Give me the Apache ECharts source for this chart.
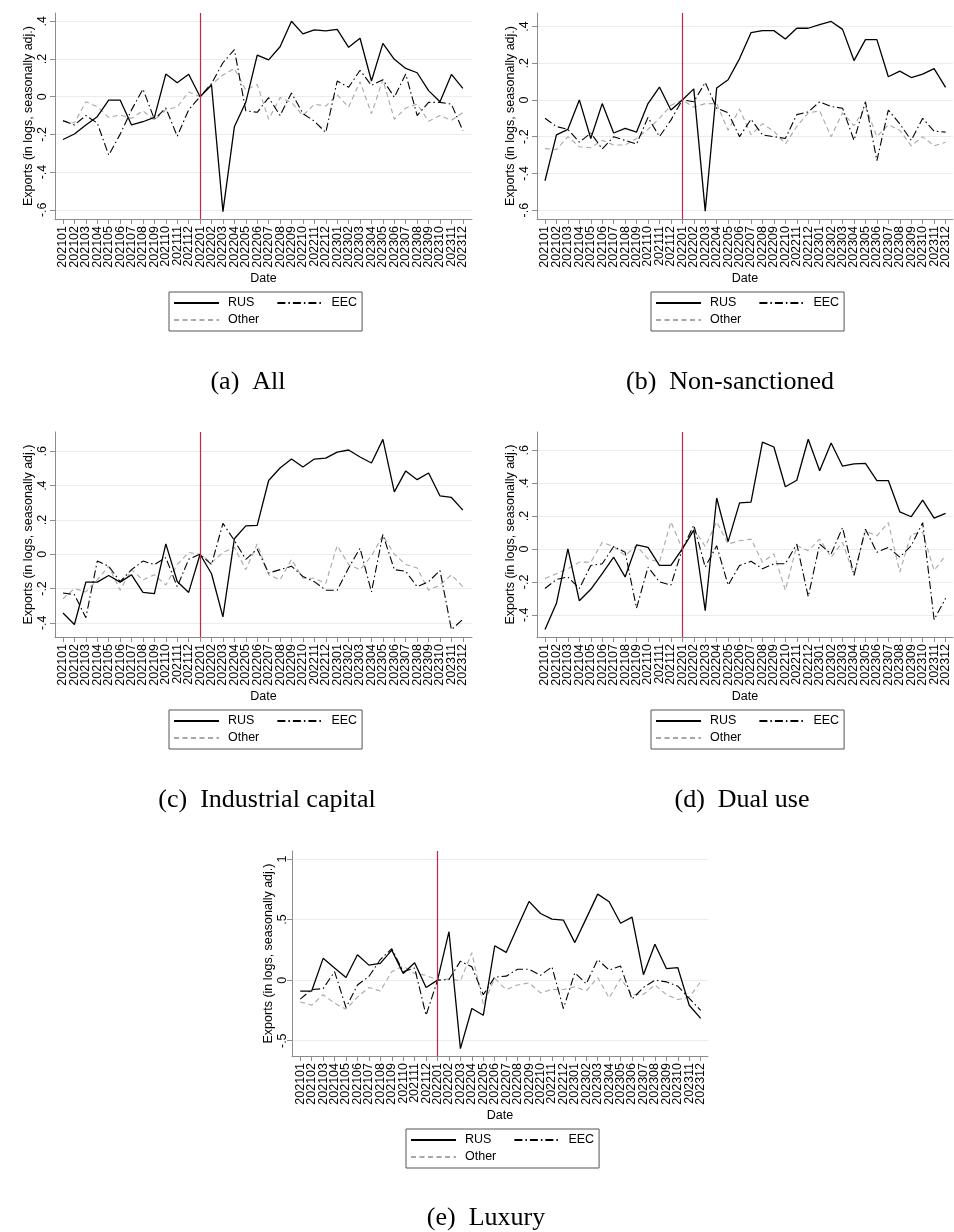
<!DOCTYPE html>
<html>
<head>
<meta charset="utf-8">
<script src="https://cdn.jsdelivr.net/npm/echarts@6/dist/echarts.min.js"></script>
<style>
html, body { margin: 0; padding: 0; background: #fff; }
#chart { width: 954px; height: 1232px; }
</style>
</head>
<body>
<div id="chart"></div>
<script>
// x axis: months 2021-01 .. 2023-12
var months = ['202101','202102','202103','202104','202105','202106','202107','202108','202109','202110','202111','202112',
              '202201','202202','202203','202204','202205','202206','202207','202208','202209','202210','202211','202212',
              '202301','202302','202303','202304','202305','202306','202307','202308','202309','202310','202311','202312'];
var eventMonth = '202201';

// y tick values
var yTicksNarrow = [-0.6, -0.4, -0.2, 0, 0.2, 0.4];
var yTicksWide = [-0.4, -0.2, 0, 0.2, 0.4, 0.6];
var yTicksLux = [-0.5, 0, 0.5, 1];

// (a) All
var rusAll = [-0.227,-0.198,-0.15,-0.106,-0.018,-0.018,-0.15,-0.133,-0.11,0.12,0.074,0.119,0,0.062,-0.61,-0.16,-0.03,0.22,0.195,0.265,0.40,0.333,0.354,0.349,0.357,0.262,0.31,0.083,0.283,0.198,0.15,0.127,0.032,-0.027,0.118,0.044];
var eecAll = [-0.127,-0.15,-0.10,-0.14,-0.31,-0.2,-0.07,0.04,-0.12,-0.06,-0.21,-0.07,0,0.07,0.18,0.25,-0.075,-0.083,-0.005,-0.10,0.02,-0.09,-0.13,-0.19,0.083,0.05,0.14,0.06,0.09,-0.003,0.12,-0.10,-0.03,-0.03,-0.04,-0.18];
var othAll = [-0.13,-0.14,-0.027,-0.053,-0.11,-0.097,-0.115,-0.075,-0.125,-0.07,-0.055,0.025,0,0.065,0.115,0.15,0.035,0.065,-0.12,-0.005,-0.03,-0.10,-0.04,-0.05,0.01,-0.055,0.08,-0.09,0.09,-0.12,-0.06,-0.04,-0.13,-0.10,-0.125,-0.085];

// (b) Non-sanctioned
var rusNon = [-0.44,-0.19,-0.16,0.0,-0.21,-0.02,-0.18,-0.155,-0.175,-0.02,0.07,-0.055,0,0.06,-0.605,0.065,0.11,0.225,0.366,0.377,0.377,0.332,0.39,0.39,0.41,0.427,0.384,0.214,0.328,0.328,0.126,0.157,0.122,0.14,0.17,0.068];
var eecNon = [-0.10,-0.145,-0.16,-0.23,-0.18,-0.267,-0.2,-0.22,-0.24,-0.095,-0.2,-0.11,0,-0.01,0.095,-0.045,-0.07,-0.2,-0.105,-0.19,-0.2,-0.21,-0.08,-0.065,-0.01,-0.036,-0.045,-0.22,-0.01,-0.33,-0.055,-0.13,-0.22,-0.1,-0.17,-0.175];
var othNon = [-0.265,-0.27,-0.2,-0.255,-0.26,-0.22,-0.245,-0.245,-0.21,-0.16,-0.1,-0.03,0,-0.04,-0.02,-0.02,-0.165,-0.05,-0.19,-0.13,-0.17,-0.24,-0.145,-0.07,-0.06,-0.2,-0.07,-0.14,-0.036,-0.2,-0.135,-0.165,-0.25,-0.2,-0.25,-0.23];

// (c) Industrial capital
var rusInd = [-0.343,-0.41,-0.163,-0.163,-0.124,-0.163,-0.12,-0.223,-0.23,0.06,-0.159,-0.223,0,-0.114,-0.366,0.09,0.165,0.168,0.43,0.503,0.555,0.509,0.555,0.561,0.596,0.608,0.567,0.532,0.67,0.364,0.486,0.435,0.474,0.34,0.331,0.257];
var eecInd = [-0.226,-0.236,-0.37,-0.04,-0.07,-0.16,-0.09,-0.04,-0.06,-0.02,-0.19,-0.03,0,-0.06,0.18,0.08,-0.03,0.03,-0.11,-0.09,-0.07,-0.13,-0.16,-0.21,-0.21,-0.08,0.035,-0.22,0.115,-0.09,-0.1,-0.19,-0.16,-0.095,-0.44,-0.38];
var othInd = [-0.26,-0.2,-0.22,-0.15,-0.07,-0.21,-0.09,-0.15,-0.12,-0.18,-0.06,0.01,0,-0.05,0.01,0.04,-0.09,0.06,-0.12,-0.15,-0.03,-0.14,-0.14,-0.17,0.05,-0.06,-0.09,-0.01,0.11,0.0,-0.06,-0.08,-0.21,-0.18,-0.12,-0.19];

// (d) Dual use
var rusDual = [-0.49,-0.33,0,-0.315,-0.245,-0.15,-0.05,-0.17,0.025,0.01,-0.1,-0.1,0,0.115,-0.375,0.31,0.045,0.28,0.285,0.65,0.62,0.378,0.418,0.667,0.475,0.644,0.503,0.517,0.52,0.416,0.416,0.226,0.196,0.297,0.188,0.216];
var eecDual = [-0.24,-0.185,-0.17,-0.24,-0.1,-0.09,0.015,-0.02,-0.36,-0.11,-0.2,-0.22,0,0.145,-0.11,0.02,-0.22,-0.1,-0.075,-0.12,-0.09,-0.09,0.03,-0.29,0.03,-0.03,0.13,-0.16,0.12,-0.02,0.01,-0.05,0.02,0.16,-0.43,-0.3];
var othDual = [-0.18,-0.15,-0.12,-0.08,-0.08,0.04,0.015,-0.04,0.02,-0.06,-0.08,0.165,0,0.125,0.015,0.165,0.03,0.05,0.06,-0.08,-0.03,-0.25,0.02,-0.01,0.06,-0.05,0.04,-0.16,0.11,0.08,0.16,-0.14,0.09,0.1,-0.13,-0.04];

// (e) Luxury
var rusLux = [-0.09,-0.09,0.18,0.10,0.022,0.21,0.124,0.138,0.248,0.055,0.143,-0.06,0,0.40,-0.565,-0.234,-0.29,0.284,0.229,0.44,0.65,0.55,0.504,0.496,0.31,0.51,0.71,0.647,0.47,0.52,0.045,0.296,0.096,0.103,-0.207,-0.315];
var eecLux = [-0.157,-0.077,-0.07,0.07,-0.226,-0.04,0.03,0.17,0.26,0.07,0.1,-0.29,0,0.005,0.157,0.11,-0.12,0.025,0.033,0.09,0.09,0.04,0.11,-0.234,0.06,-0.03,0.17,0.083,0.116,-0.157,-0.06,0,-0.014,-0.05,-0.15,-0.25];
var othLux = [-0.18,-0.207,-0.12,-0.19,-0.24,-0.14,-0.06,-0.09,0.07,0.116,0.055,0.04,0,0.01,-0.005,0.226,-0.2,0.014,-0.077,-0.04,-0.022,-0.105,-0.077,-0.077,-0.055,-0.088,0.022,-0.146,0.014,-0.12,-0.116,-0.04,-0.12,-0.16,-0.14,-0.014];

var panels = [
    {cap: '(a)  All', rus: rusAll, eec: eecAll, oth: othAll, ticks: yTicksNarrow,
     left: 55, top: 13, width: 417, height: 206, xMin: -0.7, xMax: 35.8, yMin: -0.649, yMax: 0.444,
     legLeft: 169, capX: 243, capY: 377, nameGap: 20, labMargin: 6},
    {cap: '(b)  Non-sanctioned', rus: rusNon, eec: eecNon, oth: othNon, ticks: yTicksNarrow,
     left: 537, top: 13, width: 416, height: 206, xMin: -0.7, xMax: 35.65, yMin: -0.648, yMax: 0.473,
     legLeft: 651, capX: 725, capY: 377, nameGap: 20, labMargin: 6},
    {cap: '(c)  Industrial capital', rus: rusInd, eec: eecInd, oth: othInd, ticks: yTicksWide,
     left: 55, top: 432, width: 417, height: 205, xMin: -0.7, xMax: 35.8, yMin: -0.483, yMax: 0.713,
     legLeft: 169, capX: 262, capY: 795, nameGap: 20, labMargin: 6},
    {cap: '(d)  Dual use', rus: rusDual, eec: eecDual, oth: othDual, ticks: yTicksWide,
     left: 537, top: 432, width: 416, height: 205, xMin: -0.7, xMax: 35.65, yMin: -0.535, yMax: 0.711,
     legLeft: 651, capX: 737, capY: 795, nameGap: 20, labMargin: 6},
    {cap: '(e)  Luxury', rus: rusLux, eec: eecLux, oth: othLux, ticks: yTicksLux,
     left: 292, top: 851, width: 416, height: 205, xMin: -0.72, xMax: 35.64, yMin: -0.626, yMax: 1.066,
     legLeft: 406, capX: 481, capY: 1213, nameGap: 12, labMargin: 3}
];

var AXIS = '#8c8c8c';
var FONT = 'Liberation Sans, Arial, sans-serif';
var monthIdx = months.map(function (m, i) { return i; });
// blank guard labels at both ends so the min/max-label overlap check never hides a month
var monthLabelVals = [-0.5].concat(monthIdx, [months.length - 0.5]);

function fmtY(v) {
    if (v === 0) return '0';
    return String(+v.toFixed(2)).replace(/^(-?)0\./, '$1.');
}
function pairs(arr) {
    return arr.map(function (v, i) { return [i, v]; });
}

var grids = [], xAxes = [], yAxes = [], series = [], legends = [], titles = [];

panels.forEach(function (p, k) {
    grids.push({left: p.left, top: p.top, width: p.width, height: p.height});

    xAxes.push({
        type: 'value', gridIndex: k, min: p.xMin, max: p.xMax,
        name: 'Date', nameLocation: 'middle', nameGap: 52,
        nameTextStyle: {fontSize: 12.5, color: '#000', fontFamily: FONT},
        axisLine: {show: true, onZero: false, lineStyle: {color: AXIS, width: 1}},
        axisTick: {show: true, length: 5, customValues: monthIdx, lineStyle: {color: AXIS}},
        axisLabel: {customValues: monthLabelVals, rotate: 90, margin: 7, fontSize: 12.5,
                    color: '#000', fontFamily: FONT,
                    showMinLabel: false, showMaxLabel: false, hideOverlap: false,
                    formatter: function (v) { return Number.isInteger(v) ? months[v] : ''; }},
        splitLine: {show: false}
    });

    yAxes.push({
        type: 'value', gridIndex: k, min: p.yMin, max: p.yMax,
        name: 'Exports (in logs, seasonally adj.)', nameLocation: 'middle', nameGap: p.nameGap,
        nameTextStyle: {fontSize: 12.5, color: '#000', fontFamily: FONT},
        axisLine: {show: true, onZero: false, lineStyle: {color: AXIS, width: 1}},
        axisTick: {show: true, length: 5, customValues: p.ticks, lineStyle: {color: AXIS}},
        axisLabel: {customValues: p.ticks, rotate: 90, margin: p.labMargin, fontSize: 12.5, color: '#000', fontFamily: FONT,
                    showMinLabel: true, showMaxLabel: true, formatter: fmtY},
        splitLine: {show: true, lineStyle: {color: '#e5eef0', width: 1}}
    });

    series.push({
        name: 'RUS', type: 'line', xAxisIndex: k, yAxisIndex: k, data: pairs(p.rus),
        symbol: 'none', lineStyle: {color: '#000', width: 1.3, type: 'solid'}, itemStyle: {color: '#000'},
        z: 4,
        markLine: {
            silent: true, symbol: ['none', 'none'], label: {show: false}, animation: false,
            lineStyle: {color: '#cc2244', width: 1.2, type: 'solid'},
            data: [{xAxis: months.indexOf(eventMonth)}]
        }
    });
    series.push({
        name: 'EEC', type: 'line', xAxisIndex: k, yAxisIndex: k, data: pairs(p.eec),
        symbol: 'none', lineStyle: {color: '#000', width: 1.1, type: [8, 3, 1.5, 3]}, itemStyle: {color: '#000'},
        z: 3
    });
    series.push({
        name: 'Other', type: 'line', xAxisIndex: k, yAxisIndex: k, data: pairs(p.oth),
        symbol: 'none', lineStyle: {color: '#a8a8a8', width: 1.1, type: [5, 3.5]}, itemStyle: {color: '#a8a8a8'},
        z: 2
    });

    var legTop = p.top + p.height + 73;
    var legItem = {color: 'transparent', borderColor: 'transparent', borderWidth: 0};
    legends.push({
        data: ['RUS', 'EEC'], left: p.legLeft, top: legTop, orient: 'horizontal',
        itemWidth: 45, itemHeight: 14, itemGap: 22, selectedMode: false,
        itemStyle: legItem,
        padding: [4, 5, 21, 4], borderColor: '#555', borderWidth: 1,
        textStyle: {fontSize: 12.5, color: '#000', fontFamily: FONT, padding: [0, 0, 0, 4], lineHeight: 14}
    });
    legends.push({
        data: ['Other'], left: p.legLeft + 4, top: legTop + 21, orient: 'horizontal',
        itemWidth: 45, itemHeight: 14, selectedMode: false, padding: 0,
        itemStyle: legItem,
        textStyle: {fontSize: 12.5, color: '#000', fontFamily: FONT, padding: [0, 0, 0, 4], lineHeight: 14}
    });

    titles.push({
        text: p.cap, left: p.capX, top: p.capY - 15, textAlign: 'center',
        textStyle: {fontFamily: 'Liberation Serif, Times New Roman, serif', fontSize: 26, fontWeight: 'normal',
                    color: '#000', lineHeight: 30}
    });
});

var myChart = echarts.init(document.getElementById('chart'), null, {renderer: 'canvas'});
myChart.setOption({
    animation: false,
    backgroundColor: '#fff',
    title: titles,
    legend: legends,
    grid: grids,
    xAxis: xAxes,
    yAxis: yAxes,
    series: series
});
</script>
</body>
</html>
